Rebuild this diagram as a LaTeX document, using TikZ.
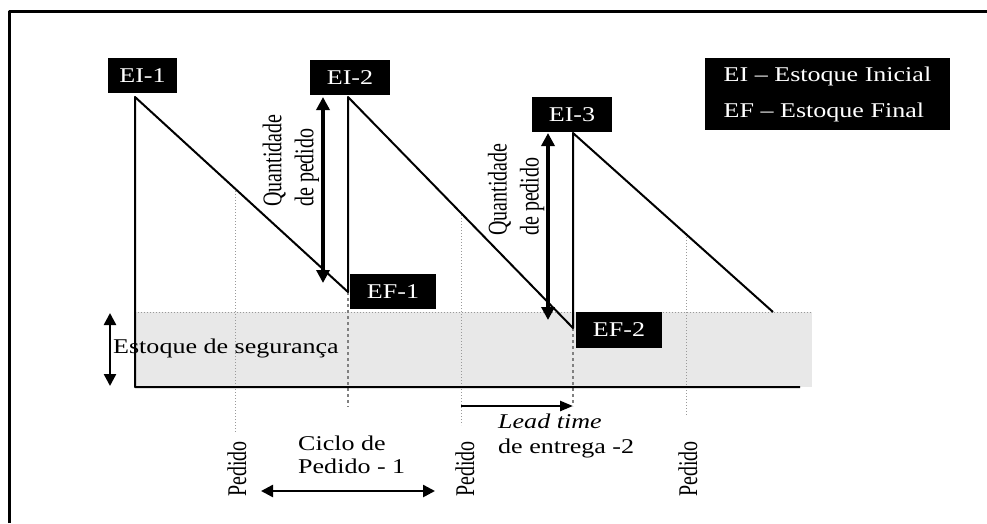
\documentclass[tikz,border=0pt]{standalone}
\usepackage{fontspec}
\setmainfont{Liberation Serif}[FakeStretch=1.24]
\newfontfamily\rotfont{Liberation Serif}[FakeStretch=0.74]
\usetikzlibrary{arrows.meta}
\tikzset{
  tag/.style={fill=black, text=white, minimum height=35pt, inner sep=0pt, font=\fontsize{21}{24}\selectfont},
  plain/.style={inner sep=0pt, font=\fontsize{21}{23}\selectfont},
  vtext/.style={rotate=90, inner sep=0pt, font=\rotfont\fontsize{27}{32}\selectfont},
  guide/.style={gray!80, dotted, line width=1pt},
  dropline/.style={gray, dashed, line width=1.5pt},
  qty/.style={{Triangle[length=13pt,width=13pt]}-{Triangle[length=13pt,width=13pt]}, line width=4.5pt},
  span/.style={{Triangle[length=12pt,width=12pt]}-{Triangle[length=12pt,width=12pt]}, line width=2.5pt},
  lead/.style={-{Triangle[length=13pt,width=10pt]}, line width=2.5pt}
}
\begin{document}
\begin{tikzpicture}[x=1pt, y=-1pt, line join=round]
  \useasboundingbox (0,0) rectangle (987,523);
  % frame (top and left edge only)
  \draw[line width=3pt] (9.5,523) -- (9.5,11.5) -- (987,11.5);
  % safety stock band
  \fill[black!9] (135,312) rectangle (812,387);
  \draw[guide] (135,312) -- (812,312);
  % stock level points
  \coordinate (p1) at (135,97);
  \coordinate (q1) at (348,292);
  \coordinate (p2) at (348,97);
  \coordinate (q2) at (573,328);
  \coordinate (p3) at (573,133);
  \coordinate (q3) at (773,312);
  \coordinate (o) at (135,387);
  \coordinate (xend) at (800,387);
  % order lines
  \draw[guide] (235,188) -- (235,433);
  \draw[guide] (461,212) -- (461,425);
  \draw[guide] (686,234) -- (686,415);
  \draw[dropline] (q1) -- (348,407);
  \draw[dropline] (q2) -- (573,406);
  % axes and sawtooth
  \draw[line width=2pt] (xend) -- (o) -- (p1) -- (q1) -- (p2) -- (q2) -- (p3) -- (q3);
  % arrows
  \coordinate (a1) at (323,97);
  \coordinate (b1) at (323,283);
  \coordinate (a2) at (548,133);
  \coordinate (b2) at (548,320);
  \draw[qty] (a1) -- (b1);
  \draw[qty] (a2) -- (b2);
  \coordinate (s1) at (110,313);
  \coordinate (s2) at (110,386);
  \draw[span] (s1) -- (s2);
  \coordinate (c1) at (261,491);
  \coordinate (c2) at (435,491);
  \draw[span] (c1) -- (c2);
  \coordinate (l1) at (461,406);
  \coordinate (l2) at (573,406);
  \draw[lead] (l1) -- (l2);
  % labels
  \node[tag, minimum width=69pt] (ei1) at (142.5,75.5) {EI-1};
  \node[tag, minimum width=80pt] (ei2) at (350,77.5) {EI-2};
  \node[tag, minimum width=86pt] (ef1) at (393,291.5) {EF-1};
  \node[tag, minimum width=80pt] (ei3) at (572,114.5) {EI-3};
  \node[tag, minimum width=86pt, minimum height=36pt] (ef2) at (619,330) {EF-2};
  \node[tag, align=left, minimum width=245pt, minimum height=72pt, font=\fontsize{21}{36}\selectfont] (legend) at (827.5,94) {EI – Estoque Inicial\\EF – Estoque Final};
  \node[vtext, anchor=west, align=left] (qp1) at (291,207) {Quantidade\\de pedido};
  \node[vtext, anchor=west, align=left] (qp2) at (516,236) {Quantidade\\de pedido};
  \node[plain, anchor=west] (seg) at (113,348) {Estoque de segurança};
  \node[vtext, anchor=west] (ped1) at (237,497) {Pedido};
  \node[vtext, anchor=west] (ped2) at (465,497) {Pedido};
  \node[vtext, anchor=west] (ped3) at (688,497) {Pedido};
  \node[plain, anchor=west, align=left] (ciclo) at (298,454.5) {Ciclo de\\Pedido - 1};
  \node[plain, anchor=west, align=left, font=\fontsize{21}{25}\selectfont] (lt) at (498,435.5) {\textit{Lead time}\\de entrega -2};
\end{tikzpicture}
\end{document}
